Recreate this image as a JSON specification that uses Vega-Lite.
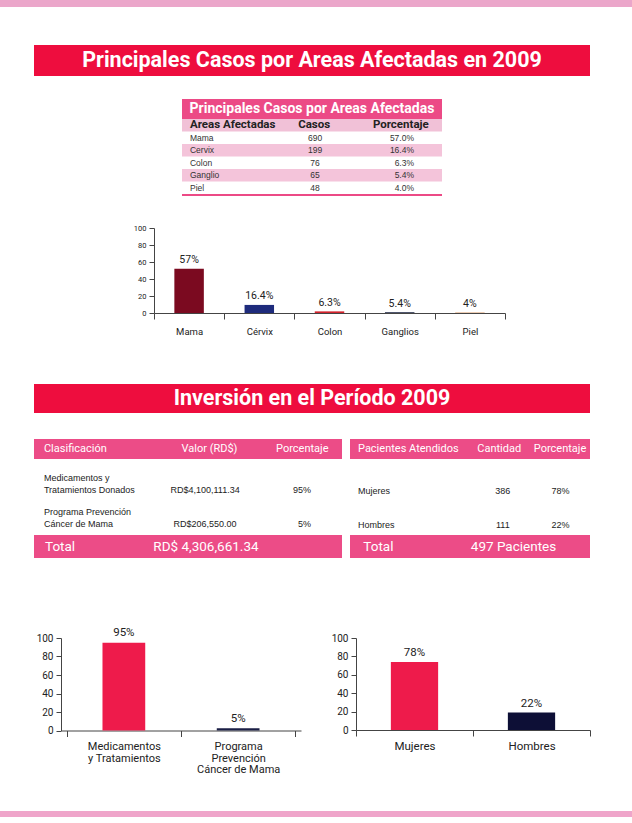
{
  "$schema": "https://vega.github.io/schema/vega-lite/v6.json",
  "padding": 0,
  "autosize": {"type": "pad"},
  "background": "#FFFFFF",
  "spacing": 0,
  "resolve": {"scale": {"color": "independent"}},
  "config": {
    "view": {"stroke": null},
    "concat": {"spacing": 0},
    "font": "Liberation Sans",
    "axis": {"domainColor": "#444444", "tickColor": "#444444", "labelColor": "#222222", "labelFont": "Roboto", "grid": false, "domainWidth": 1, "tickWidth": 1}
  },
  "datasets": {
    "areas": [
      {"Area": "Mama", "Etiqueta": "Mama", "Casos": 690, "Porcentaje": "57.0%", "Rotulo": "57%", "Barra": 52},
      {"Area": "Cervix", "Etiqueta": "Cérvix", "Casos": 199, "Porcentaje": "16.4%", "Rotulo": "16.4%", "Barra": 9.5},
      {"Area": "Colon", "Etiqueta": "Colon", "Casos": 76, "Porcentaje": "6.3%", "Rotulo": "6.3%", "Barra": 1.9},
      {"Area": "Ganglio", "Etiqueta": "Ganglios", "Casos": 65, "Porcentaje": "5.4%", "Rotulo": "5.4%", "Barra": 0.9},
      {"Area": "Piel", "Etiqueta": "Piel", "Casos": 48, "Porcentaje": "4.0%", "Rotulo": "4%", "Barra": 0.5}
    ],
    "inversion": [
      {"Clasificacion": "Medicamentos y\nTratamientos Donados", "Etiqueta": "Medicamentos\ny Tratamientos", "Valor": "RD$4,100,111.34", "Porcentaje": "95%", "Barra": 95},
      {"Clasificacion": "Programa Prevención\nCáncer de Mama", "Etiqueta": "Programa\nPrevención\nCáncer de Mama", "Valor": "RD$206,550.00", "Porcentaje": "5%", "Barra": 2.5}
    ],
    "pacientes": [
      {"Sexo": "Mujeres", "Cantidad": 386, "Porcentaje": "78%", "Barra": 74},
      {"Sexo": "Hombres", "Cantidad": 111, "Porcentaje": "22%", "Barra": 19}
    ],
    "encabezados1": [{"columna": "Areas Afectadas"}, {"columna": "Casos"}, {"columna": "Porcentaje"}],
    "encabezados2": [{"columna": "Clasificación"}, {"columna": "Valor (RD$)"}, {"columna": "Porcentaje"}],
    "encabezados3": [{"columna": "Pacientes Atendidos"}, {"columna": "Cantidad"}, {"columna": "Porcentaje"}]
  },
  "vconcat": [
    {"width": 632, "height": 7, "view": {"fill": "#EBA6CA"}, "data": {"values": []}, "mark": "rect"},
    {"width": 1, "height": 38, "data": {"values": []}, "mark": "rect"},
    {"spacing": 0, "hconcat": [
      {"width": 34, "height": 1, "data": {"values": []}, "mark": "rect"},
      {"width": 556, "height": 31, "view": {"fill": "#EE0D3E"}, "data": {"values": [{"titulo": "Principales Casos por Areas Afectadas en 2009"}]},
       "mark": {"type": "text", "font": "Roboto", "fontWeight": "bold", "fontSize": 21.5, "color": "#FFFFFF", "align": "center", "baseline": "middle"},
       "encoding": {"text": {"field": "titulo"}}}
    ]},
    {"width": 1, "height": 23, "data": {"values": []}, "mark": "rect"},
    {"spacing": 0, "resolve": {"scale": {"color": "independent"}}, "hconcat": [
      {"width": 182, "height": 1, "data": {"values": []}, "mark": "rect"},
      {"spacing": 0, "resolve": {"scale": {"color": "independent"}}, "vconcat": [
        {"width": 260, "height": 20, "view": {"fill": "#EC4A86"}, "data": {"values": [{"titulo": "Principales Casos por Areas Afectadas"}]},
         "mark": {"type": "text", "font": "Roboto", "fontWeight": "bold", "fontSize": 14, "color": "#FFFFFF", "align": "center", "baseline": "middle"},
         "encoding": {"text": {"field": "titulo"}}},
        {"width": 260, "height": 75, "view": {"fill": "#F1C1D7"},
         "layer": [
           {"data": {"name": "areas"}, "mark": {"type": "rect"},
            "encoding": {
              "y": {"field": "Area", "type": "nominal", "axis": null, "scale": {"type": "band", "domain": ["Encabezado", "Mama", "Cervix", "Colon", "Ganglio", "Piel"], "paddingInner": 0, "paddingOuter": 0}},
              "color": {"field": "Area", "type": "nominal", "legend": null, "scale": {"domain": ["Mama", "Cervix", "Colon", "Ganglio", "Piel"], "range": ["#FFFFFF", "#F4C4DA", "#FFFFFF", "#F4C4DA", "#FFFFFF"]}}
            }},
           {"data": {"name": "encabezados1"}, "transform": [{"filter": "datum.columna === 'Areas Afectadas'"}],
            "mark": {"type": "text", "font": "Roboto", "fontWeight": "bold", "fontSize": 11.5, "color": "#222222", "align": "left", "baseline": "middle"},
            "encoding": {
              "x": {"field": "columna", "type": "nominal", "axis": null, "bandPosition": 0.092, "scale": {"type": "band", "domain": ["Areas Afectadas", "Casos", "Porcentaje"], "paddingInner": 0, "paddingOuter": 0}},
              "y": {"datum": "Encabezado", "type": "nominal", "axis": null},
              "text": {"field": "columna"}
            }},
           {"data": {"name": "encabezados1"}, "transform": [{"filter": "datum.columna !== 'Areas Afectadas'"}],
            "mark": {"type": "text", "font": "Roboto", "fontWeight": "bold", "fontSize": 11.5, "color": "#222222", "align": "center", "baseline": "middle"},
            "encoding": {
              "x": {"field": "columna", "type": "nominal", "axis": null, "bandPosition": 0.525},
              "y": {"datum": "Encabezado", "type": "nominal", "axis": null},
              "text": {"field": "columna"}
            }},
           {"data": {"name": "areas"},
            "mark": {"type": "text", "fontSize": 8.5, "color": "#333333", "align": "left", "baseline": "middle"},
            "encoding": {
              "x": {"datum": "Areas Afectadas", "type": "nominal", "axis": null, "bandPosition": 0.092},
              "y": {"field": "Area", "type": "nominal", "axis": null},
              "text": {"field": "Area"}
            }},
           {"data": {"name": "areas"},
            "mark": {"type": "text", "fontSize": 8.5, "color": "#333333", "align": "center", "baseline": "middle"},
            "encoding": {
              "x": {"datum": "Casos", "type": "nominal", "axis": null, "bandPosition": 0.535},
              "y": {"field": "Area", "type": "nominal", "axis": null},
              "text": {"field": "Casos"}
            }},
           {"data": {"name": "areas"},
            "mark": {"type": "text", "fontSize": 8.5, "color": "#333333", "align": "right", "baseline": "middle"},
            "encoding": {
              "x": {"datum": "Porcentaje", "type": "nominal", "axis": null, "bandPosition": 0.677},
              "y": {"field": "Area", "type": "nominal", "axis": null},
              "text": {"field": "Porcentaje"}
            }}
         ]},
        {"width": 260, "height": 2, "view": {"fill": "#EC4A86"}, "data": {"values": []}, "mark": "rect"}
      ]}
    ]},
    {"width": 1, "height": 28, "data": {"values": []}, "mark": "rect"},
    {"spacing": 0, "resolve": {"scale": {"color": "independent"}}, "hconcat": [
      {"width": 133, "height": 1, "data": {"values": []}, "mark": "rect"},
      {"width": 351, "height": 85, "data": {"name": "areas"},
       "encoding": {
         "x": {"field": "Etiqueta", "type": "nominal", "sort": null,
               "scale": {"type": "band", "domain": ["Mama", "Cérvix", "Colon", "Ganglios", "Piel"], "paddingInner": 0, "paddingOuter": 0},
               "axis": {"title": null, "labelAngle": 0, "tickBand": "extent", "tickSize": 6, "labelPadding": 7, "labelFontSize": 9.5}},
         "y": {"field": "Barra", "type": "quantitative", "scale": {"domain": [0, 100], "nice": false},
               "axis": {"title": null, "values": [0, 20, 40, 60, 80, 100], "tickSize": 5, "labelPadding": 3, "labelFontSize": 7.5}}
       },
       "layer": [
         {"mark": {"type": "bar", "width": {"band": 0.42}},
          "encoding": {"color": {"field": "Etiqueta", "type": "nominal", "legend": null,
            "scale": {"domain": ["Mama", "Cérvix", "Colon", "Ganglios", "Piel"], "range": ["#7B0A20", "#1E2B7C", "#D3222C", "#1B2240", "#D2874D"]}}}},
         {"mark": {"type": "text", "font": "Roboto", "fontSize": 10.5, "color": "#222222", "baseline": "middle", "dy": -8.5},
          "encoding": {"text": {"field": "Rotulo"}}}
       ]}
    ]},
    {"width": 1, "height": 48, "data": {"values": []}, "mark": "rect"},
    {"spacing": 0, "hconcat": [
      {"width": 34, "height": 1, "data": {"values": []}, "mark": "rect"},
      {"width": 556, "height": 29, "view": {"fill": "#EE0D3E"}, "data": {"values": [{"titulo": "Inversión en el Período 2009"}]},
       "mark": {"type": "text", "font": "Roboto", "fontWeight": "bold", "fontSize": 21.5, "color": "#FFFFFF", "align": "center", "baseline": "middle"},
       "encoding": {"text": {"field": "titulo"}}}
    ]},
    {"width": 1, "height": 26, "data": {"values": []}, "mark": "rect"},
    {"spacing": 0, "hconcat": [
      {"width": 34, "height": 1, "data": {"values": []}, "mark": "rect"},
      {"spacing": 0, "vconcat": [
        {"width": 308, "height": 20, "view": {"fill": "#EC4C87"}, "data": {"name": "encabezados2"},
         "layer": [
           {"transform": [{"filter": "datum.columna === 'Clasificación'"}],
            "mark": {"type": "text", "font": "Roboto", "fontSize": 11, "color": "#FFFFFF", "align": "left", "baseline": "middle"},
            "encoding": {"x": {"field": "columna", "type": "nominal", "axis": null, "bandPosition": 0.097, "scale": {"type": "band", "domain": ["Clasificación", "Valor (RD$)", "Porcentaje"], "paddingInner": 0, "paddingOuter": 0}}, "text": {"field": "columna"}}},
           {"transform": [{"filter": "datum.columna === 'Valor (RD$)'"}],
            "mark": {"type": "text", "font": "Roboto", "fontSize": 11, "color": "#FFFFFF", "align": "center", "baseline": "middle"},
            "encoding": {"x": {"field": "columna", "type": "nominal", "axis": null, "bandPosition": 0.709}, "text": {"field": "columna"}}},
           {"transform": [{"filter": "datum.columna === 'Porcentaje'"}],
            "mark": {"type": "text", "font": "Roboto", "fontSize": 11, "color": "#FFFFFF", "align": "center", "baseline": "middle"},
            "encoding": {"x": {"field": "columna", "type": "nominal", "axis": null, "bandPosition": 0.613}, "text": {"field": "columna"}}}
         ]},
        {"width": 308, "height": 76, "data": {"name": "inversion"},
         "layer": [
           {"mark": {"type": "text", "fontSize": 9, "color": "#222222", "align": "left", "baseline": "middle", "lineBreak": "\n", "lineHeight": 12.3},
            "encoding": {
              "x": {"datum": "Clasificación", "type": "nominal", "axis": null, "bandPosition": 0.097, "scale": {"type": "band", "domain": ["Clasificación", "Valor (RD$)", "Porcentaje"], "paddingInner": 0, "paddingOuter": 0}},
              "y": {"field": "Clasificacion", "type": "nominal", "axis": null, "bandPosition": 0.432, "scale": {"type": "band", "domain": ["Medicamentos y\nTratamientos Donados", "Programa Prevención\nCáncer de Mama"], "paddingInner": 0, "paddingOuter": 0.1176}},
              "text": {"field": "Clasificacion"}
            }},
           {"mark": {"type": "text", "fontSize": 9, "color": "#222222", "align": "center", "baseline": "middle"},
            "encoding": {
              "x": {"datum": "Valor (RD$)", "type": "nominal", "axis": null, "bandPosition": 0.666},
              "y": {"field": "Clasificacion", "type": "nominal", "axis": null, "bandPosition": 0.794},
              "text": {"field": "Valor"}
            }},
           {"mark": {"type": "text", "fontSize": 9, "color": "#222222", "align": "right", "baseline": "middle"},
            "encoding": {
              "x": {"datum": "Porcentaje", "type": "nominal", "axis": null, "bandPosition": 0.698},
              "y": {"field": "Clasificacion", "type": "nominal", "axis": null, "bandPosition": 0.794},
              "text": {"field": "Porcentaje"}
            }}
         ]},
        {"width": 308, "height": 23, "view": {"fill": "#EC4C87"}, "data": {"values": [{"concepto": "Total", "valor": "RD$ 4,306,661.34"}]},
         "layer": [
           {"mark": {"type": "text", "font": "Roboto", "fontSize": 13.5, "color": "#FFFFFF", "align": "left", "baseline": "middle"},
            "encoding": {"x": {"datum": "Clasificación", "type": "nominal", "axis": null, "bandPosition": 0.107, "scale": {"type": "band", "domain": ["Clasificación", "Valor (RD$)", "Porcentaje"], "paddingInner": 0, "paddingOuter": 0}}, "text": {"field": "concepto"}}},
           {"mark": {"type": "text", "font": "Roboto", "fontSize": 13.5, "color": "#FFFFFF", "align": "center", "baseline": "middle"},
            "encoding": {"x": {"datum": "Valor (RD$)", "type": "nominal", "axis": null, "bandPosition": 0.675}, "text": {"field": "valor"}}}
         ]}
      ]},
      {"width": 8, "height": 1, "data": {"values": []}, "mark": "rect"},
      {"spacing": 0, "vconcat": [
        {"width": 240, "height": 20, "view": {"fill": "#EC4C87"}, "data": {"name": "encabezados3"},
         "layer": [
           {"transform": [{"filter": "datum.columna === 'Pacientes Atendidos'"}],
            "mark": {"type": "text", "font": "Roboto", "fontSize": 11, "color": "#FFFFFF", "align": "left", "baseline": "middle"},
            "encoding": {"x": {"field": "columna", "type": "nominal", "axis": null, "bandPosition": 0.1, "scale": {"type": "band", "domain": ["Pacientes Atendidos", "Cantidad", "Porcentaje"], "paddingInner": 0, "paddingOuter": 0}}, "text": {"field": "columna"}}},
           {"transform": [{"filter": "datum.columna === 'Cantidad'"}],
            "mark": {"type": "text", "font": "Roboto", "fontSize": 11, "color": "#FFFFFF", "align": "center", "baseline": "middle"},
            "encoding": {"x": {"field": "columna", "type": "nominal", "axis": null, "bandPosition": 0.865}, "text": {"field": "columna"}}},
           {"transform": [{"filter": "datum.columna === 'Porcentaje'"}],
            "mark": {"type": "text", "font": "Roboto", "fontSize": 11, "color": "#FFFFFF", "align": "center", "baseline": "middle"},
            "encoding": {"x": {"field": "columna", "type": "nominal", "axis": null, "bandPosition": 0.625}, "text": {"field": "columna"}}}
         ]},
        {"width": 240, "height": 76, "data": {"name": "pacientes"},
         "layer": [
           {"mark": {"type": "text", "fontSize": 9, "color": "#222222", "align": "left", "baseline": "middle"},
            "encoding": {
              "x": {"datum": "Pacientes Atendidos", "type": "nominal", "axis": null, "bandPosition": 0.1, "scale": {"type": "band", "domain": ["Pacientes Atendidos", "Cantidad", "Porcentaje"], "paddingInner": 0, "paddingOuter": 0}},
              "y": {"field": "Sexo", "type": "nominal", "axis": null, "bandPosition": 0.81, "scale": {"type": "band", "domain": ["Mujeres", "Hombres"], "paddingInner": 0, "paddingOuter": 0.1176}},
              "text": {"field": "Sexo"}
            }},
           {"mark": {"type": "text", "fontSize": 9, "color": "#222222", "align": "center", "baseline": "middle"},
            "encoding": {
              "x": {"datum": "Cantidad", "type": "nominal", "axis": null, "bandPosition": 0.91},
              "y": {"field": "Sexo", "type": "nominal", "axis": null, "bandPosition": 0.81},
              "text": {"field": "Cantidad"}
            }},
           {"mark": {"type": "text", "fontSize": 9, "color": "#222222", "align": "center", "baseline": "middle"},
            "encoding": {
              "x": {"datum": "Porcentaje", "type": "nominal", "axis": null, "bandPosition": 0.63},
              "y": {"field": "Sexo", "type": "nominal", "axis": null, "bandPosition": 0.81},
              "text": {"field": "Porcentaje"}
            }}
         ]},
        {"width": 240, "height": 23, "view": {"fill": "#EC4C87"}, "data": {"values": [{"concepto": "Total", "valor": "497 Pacientes"}]},
         "layer": [
           {"mark": {"type": "text", "font": "Roboto", "fontSize": 13.5, "color": "#FFFFFF", "align": "left", "baseline": "middle"},
            "encoding": {"x": {"datum": "Total", "type": "nominal", "axis": null, "bandPosition": 0.111, "scale": {"type": "band", "domain": ["Total", "Pacientes"], "paddingInner": 0, "paddingOuter": 0}}, "text": {"field": "concepto"}}},
           {"mark": {"type": "text", "font": "Roboto", "fontSize": 13.5, "color": "#FFFFFF", "align": "center", "baseline": "middle"},
            "encoding": {"x": {"datum": "Pacientes", "type": "nominal", "axis": null, "bandPosition": 0.3625}, "text": {"field": "valor"}}}
         ]}
      ]}
    ]},
    {"width": 1, "height": 69, "data": {"values": []}, "mark": "rect"},
    {"spacing": 0, "resolve": {"scale": {"color": "independent"}}, "hconcat": [
      {"width": 36, "height": 1, "data": {"values": []}, "mark": "rect"},
      {"width": 240, "height": 92.5, "data": {"name": "inversion"},
       "encoding": {
         "x": {"field": "Etiqueta", "type": "nominal", "sort": null,
               "scale": {"type": "band", "domain": ["Medicamentos\ny Tratamientos", "Programa\nPrevención\nCáncer de Mama"], "paddingInner": 0, "paddingOuter": 0.05},
               "axis": {"title": null, "labelAngle": 0, "tickBand": "extent", "tickSize": 6, "labelPadding": 4, "labelFontSize": 11, "labelLineHeight": 11.6, "labelExpr": "split(datum.label, '\\n')"}},
         "y": {"field": "Barra", "type": "quantitative", "scale": {"domain": [0, 100], "nice": false},
               "axis": {"title": null, "values": [0, 20, 40, 60, 80, 100], "tickSize": 5, "labelPadding": 3, "labelFontSize": 10}}
       },
       "layer": [
         {"mark": {"type": "bar", "width": {"band": 0.374}},
          "encoding": {"color": {"field": "Etiqueta", "type": "nominal", "legend": null,
            "scale": {"domain": ["Medicamentos\ny Tratamientos", "Programa\nPrevención\nCáncer de Mama"], "range": ["#EE1B4B", "#1A1E45"]}}}},
         {"mark": {"type": "text", "font": "Roboto", "fontSize": 11.5, "color": "#222222", "baseline": "middle", "dy": -9.5},
          "encoding": {"text": {"field": "Porcentaje"}}}
       ]},
      {"width": 29.4, "height": 1, "data": {"values": []}, "mark": "rect"},
      {"width": 234, "height": 92, "data": {"name": "pacientes"},
       "encoding": {
         "x": {"field": "Sexo", "type": "nominal", "sort": null,
               "scale": {"type": "band", "domain": ["Mujeres", "Hombres"], "paddingInner": 0, "paddingOuter": 0},
               "axis": {"title": null, "labelAngle": 0, "tickBand": "extent", "tickSize": 6, "labelPadding": 4, "labelFontSize": 11.5}},
         "y": {"field": "Barra", "type": "quantitative", "scale": {"domain": [0, 100], "nice": false},
               "axis": {"title": null, "values": [0, 20, 40, 60, 80, 100], "tickSize": 5, "labelPadding": 3, "labelFontSize": 10}}
       },
       "layer": [
         {"mark": {"type": "bar", "width": {"band": 0.404}},
          "encoding": {"color": {"field": "Sexo", "type": "nominal", "legend": null,
            "scale": {"domain": ["Mujeres", "Hombres"], "range": ["#EE1B4B", "#0D0F36"]}}}},
         {"mark": {"type": "text", "font": "Roboto", "fontSize": 11.5, "color": "#222222", "baseline": "middle", "dy": -9},
          "encoding": {"text": {"field": "Porcentaje"}}}
       ]}
    ]},
    {"width": 1, "height": 36, "data": {"values": []}, "mark": "rect"},
    {"width": 632, "height": 6, "view": {"fill": "#EFA5CA"}, "data": {"values": []}, "mark": "rect"},
    {"width": 1, "height": 7, "data": {"values": []}, "mark": "rect"}
  ]
}
